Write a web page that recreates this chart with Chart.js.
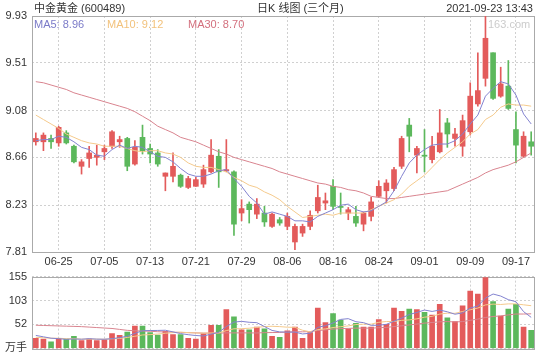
<!DOCTYPE html>
<html>
<head>
<meta charset="utf-8">
<script src="https://cdn.jsdelivr.net/npm/chart.js@4.4.0/dist/chart.umd.min.js"></script>
<style>
body { margin: 0; background: #fff; width: 540px; height: 360px; position: relative; overflow: hidden;
       font-family: "Liberation Sans", "Noto Sans CJK SC", sans-serif; font-size: 11px; color: #333; }
canvas { position: absolute; left: 0; }
#price { top: 0; }
#volume { top: 265px; }
.t { position: absolute; white-space: nowrap; line-height: 13px; z-index: 2; }
</style>
</head>
<body>
<canvas id="price" width="540" height="268"></canvas>
<canvas id="volume" width="540" height="95"></canvas>
<div class="t" style="left:34px;top:2px">中金黄金 (600489)</div>
<div class="t" style="left:257px;top:2px">日K 线图 (三个月)</div>
<div class="t" style="right:7px;top:2px">2021-09-23 13:43</div>
<div class="t" style="left:34px;top:18px;color:#7b7bc8">MA5: 8.96</div>
<div class="t" style="left:107px;top:18px;color:#f2c27c">MA10: 9.12</div>
<div class="t" style="left:188px;top:18px;color:#d3707e">MA30: 8.70</div>
<div class="t" style="left:488px;top:18px;color:#ccc">163.com</div>
<script>
const dates = ['06-22','06-23','06-24','06-25','06-28','06-29','06-30','07-01','07-02','07-05',
  '07-06','07-07','07-08','07-09','07-12','07-13','07-14','07-15','07-16','07-19',
  '07-20','07-21','07-22','07-23','07-26','07-27','07-28','07-29','07-30','08-02',
  '08-03','08-04','08-05','08-06','08-09','08-10','08-11','08-12','08-13','08-16',
  '08-17','08-18','08-19','08-20','08-23','08-24','08-25','08-26','08-27','08-30',
  '08-31','09-01','09-02','09-03','09-06','09-07','09-08','09-09','09-10','09-13',
  '09-14','09-15','09-16','09-17','09-22','09-23'];
const shownDates = ['06-25','07-05','07-13','07-21','07-29','08-06','08-16','08-24','09-01','09-09','09-17'];

const opens = [8.80,8.80,8.83,8.79,8.88,8.76,8.58,8.65,8.66,8.71,
  8.76,8.80,8.83,8.60,8.84,8.74,8.70,8.49,8.49,8.50,
  8.39,8.40,8.42,8.53,8.67,8.54,8.53,8.16,8.24,8.15,
  8.16,8.04,8.10,8.04,7.90,7.98,8.04,8.18,8.25,8.40,
  8.22,8.16,8.13,8.06,8.13,8.31,8.36,8.38,8.58,8.95,
  8.68,8.68,8.64,8.71,8.97,8.83,8.76,8.89,9.14,9.37,
  9.60,9.21,9.30,8.91,8.67,8.80];
const highs = [8.88,8.88,8.86,8.94,8.90,8.77,8.64,8.76,8.77,8.77,
  8.90,8.85,8.84,8.81,8.95,8.78,8.73,8.52,8.70,8.51,
  8.49,8.48,8.59,8.82,8.73,8.82,8.54,8.28,8.26,8.29,
  8.22,8.16,8.12,8.16,8.06,8.06,8.18,8.41,8.34,8.46,
  8.34,8.21,8.22,8.17,8.30,8.45,8.46,8.57,8.85,9.01,
  8.76,8.91,8.85,9.09,9.01,8.92,9.04,9.33,9.60,9.93,
  9.60,9.47,9.53,9.07,8.89,8.89];
const lows = [8.77,8.72,8.74,8.76,8.78,8.61,8.51,8.57,8.59,8.64,
  8.74,8.75,8.54,8.59,8.69,8.61,8.58,8.36,8.44,8.39,
  8.38,8.40,8.39,8.52,8.39,8.53,7.96,8.09,8.07,8.11,
  8.04,8.03,8.05,8.01,7.83,7.95,8.01,8.16,8.19,8.19,
  8.15,8.10,8.04,8.00,8.09,8.30,8.25,8.36,8.56,8.71,
  8.52,8.53,8.61,8.70,8.75,8.76,8.67,8.86,9.12,9.30,
  9.18,9.20,9.09,8.61,8.66,8.68];
const closes = [8.83,8.86,8.80,8.93,8.79,8.62,8.62,8.70,8.68,8.74,
  8.89,8.82,8.58,8.75,8.72,8.69,8.60,8.52,8.58,8.40,
  8.47,8.46,8.55,8.68,8.53,8.55,8.06,8.20,8.19,8.24,
  8.08,8.15,8.07,8.13,8.04,8.04,8.14,8.30,8.27,8.22,
  8.21,8.19,8.07,8.16,8.26,8.40,8.43,8.55,8.83,8.85,
  8.74,8.67,8.76,8.88,8.87,8.87,8.99,9.21,9.26,9.73,
  9.19,9.32,9.10,8.77,8.85,8.76];

const ma5 = [8.81,8.82,8.82,8.85,8.84,8.80,8.75,8.73,8.68,8.67,
  8.73,8.77,8.74,8.76,8.75,8.71,8.67,8.66,8.62,8.56,
  8.51,8.49,8.49,8.51,8.54,8.55,8.47,8.40,8.31,8.25,
  8.15,8.17,8.15,8.13,8.09,8.09,8.08,8.13,8.16,8.19,
  8.23,8.24,8.19,8.17,8.18,8.22,8.26,8.36,8.49,8.61,
  8.68,8.73,8.77,8.78,8.78,8.81,8.87,8.96,9.04,9.21,
  9.28,9.34,9.32,9.22,9.05,8.96];
const ma10 = [9.04,9.00,8.96,8.92,8.87,8.84,8.81,8.79,8.78,8.76,
  8.76,8.76,8.74,8.72,8.71,8.72,8.72,8.70,8.69,8.66,
  8.61,8.58,8.57,8.57,8.55,8.53,8.48,8.45,8.41,8.39,
  8.35,8.32,8.28,8.22,8.17,8.12,8.13,8.14,8.15,8.14,
  8.16,8.16,8.16,8.16,8.19,8.22,8.25,8.28,8.33,8.40,
  8.45,8.50,8.57,8.64,8.70,8.75,8.80,8.87,8.91,9.00,
  9.04,9.11,9.14,9.13,9.13,9.12];
const ma30 = [9.34,9.33,9.31,9.29,9.27,9.24,9.22,9.20,9.18,9.16,
  9.14,9.12,9.10,9.07,9.03,8.99,8.94,8.91,8.88,8.84,
  8.82,8.80,8.77,8.74,8.71,8.69,8.66,8.64,8.62,8.60,
  8.58,8.56,8.53,8.51,8.49,8.47,8.45,8.43,8.42,8.40,
  8.39,8.37,8.36,8.34,8.31,8.30,8.29,8.29,8.30,8.31,
  8.32,8.33,8.34,8.35,8.36,8.39,8.42,8.45,8.48,8.52,
  8.55,8.57,8.59,8.62,8.66,8.70];

const volumes = [22,20,14,22,20,26,17,20,17,19,
  32,28,35,48,48,34,29,37,30,30,
  22,20,32,50,50,84,68,40,40,46,
  42,26,24,38,46,22,34,87,56,75,
  61,42,54,46,46,62,52,87,80,85,
  84,78,72,95,66,58,92,124,117,153,
  101,70,85,95,46,39];
const volMa5 = [28,25,22,21,19.6,20.4,19.8,21,20,19.8,
  21,23.2,26.2,32.4,38.2,38.6,38.8,39.2,35.6,32,
  29.6,27.8,26.8,30.8,34.8,47.2,56.8,58.4,56.4,55.6,
  47.2,38.8,35.6,35.2,35.2,31.2,32.8,45.4,49,54.8,
  62.6,64.2,57.6,55.6,49.8,50,52,58.6,65.4,73.2,
  77.6,82.8,79.8,82.8,79,73.8,76.6,87,91.4,108.8,
  117.4,113,105.2,100.8,79.4,67];
const volMa10 = [24,23,22,22,21,21,20,20,20,19.7,
  20.7,21.5,23.6,26.2,29,29.8,31,32.7,34,35.1,
  34.1,33.3,33,33.2,33.4,38.4,42.3,42.6,43.6,45.2,
  47.2,47.8,47,45.8,45.4,39.2,35.8,40.5,42.1,45,
  46.9,48.5,51.5,52.3,52.3,56.3,58.1,58.1,60.5,61.5,
  63.8,67.4,69.2,74.1,76.1,75.7,79.7,83.4,87.1,93.9,
  95.6,94.8,96.1,96.1,94.1,92.2];
const volMa30 = [50,49.5,49,48.5,48,47.5,47,46,45,44,
  43,41,39,38,37.5,37,36,35.5,35,34.5,
  34,33.5,33,33,33,33.5,33.5,33.5,33.5,33.3,
  34,34.2,34.5,35.1,35.9,35.8,36.4,38.6,39.9,41.8,
  42.7,43.2,43.8,43.8,43.7,44.6,45.4,47.1,48.7,50.6,
  52.6,54.6,55.9,57.4,57.9,57.1,57.9,60.7,63.2,66.8,
  68.8,70.2,72.3,74.2,74.2,74.7];

const priceTicks = [7.81, 8.23, 8.66, 9.08, 9.51, 9.93];
const volumeTicks = [0, 52, 103, 155];

const upColor = '#e35b5b', downColor = '#5cb85c';
const ma5Color = '#8383d0', ma10Color = '#f5ca8c', ma30Color = '#d9848f';
const candleColors = closes.map((c, i) => c >= opens[i] ? upColor : downColor);

const tickFont = { family: '"Liberation Sans", "Noto Sans CJK SC", sans-serif', size: 11 };

// frame around each plot area
const boxPlugin = {
    id: 'box',
    beforeDatasetsDraw(chart) {
        const { ctx, chartArea: a } = chart;
        ctx.save();
        ctx.strokeStyle = '#aaa';
        ctx.lineWidth = 1;
        ctx.setLineDash([]);
        ctx.strokeRect(Math.round(a.left) + 0.5, Math.round(a.top) + 0.5,
            Math.round(a.right - a.left) - 1, Math.round(a.bottom - a.top));
        ctx.restore();
    }
};

function maLine(data, color) {
    return { type: 'line', data: data, borderColor: color, borderWidth: 1,
             pointRadius: 0, tension: 0, fill: false };
}

function xScale(showLabels) {
    return {
        type: 'category',
        offset: true,
        grid: { offset: false, color: '#d0d0d0', drawTicks: false },
        border: { display: false, dash: [2, 2] },
        ticks: { display: showLabels, autoSkip: false, maxRotation: 0, padding: 3,
                 color: '#333', font: tickFont },
        afterBuildTicks: (s) => { s.ticks = s.ticks.filter(t => shownDates.includes(dates[t.value])); },
        afterFit: (s) => { s.height = showLabels ? 16 : 0; }
    };
}

function yScale(min, max, ticks, fmt) {
    return {
        min: min, max: max,
        grid: { color: '#d0d0d0', drawTicks: false },
        border: { display: false, dash: [2, 2] },
        ticks: { padding: 5, color: '#333', font: tickFont, callback: fmt },
        afterBuildTicks: (s) => { s.ticks = ticks.map(v => ({ value: v })); },
        afterFit: (s) => { s.width = 32; }
    };
}

new Chart(document.getElementById('price').getContext('2d'), {
    type: 'bar',
    data: {
        labels: dates,
        datasets: [
            maLine(ma5, ma5Color),
            maLine(ma10, ma10Color),
            maLine(ma30, ma30Color),
            {
                data: opens.map((o, i) => [o, closes[i]]),
                backgroundColor: candleColors,
                barThickness: 5, grouped: false, minBarLength: 1
            },
            {
                data: lows.map((l, i) => [l, highs[i]]),
                backgroundColor: candleColors,
                barThickness: 1, grouped: false
            }
        ]
    },
    options: {
        responsive: false,
        animation: false,
        devicePixelRatio: 1,
        layout: { padding: { top: 16, right: 5, left: 0, bottom: 0 } },
        plugins: { legend: { display: false }, tooltip: { enabled: false } },
        scales: {
            x: xScale(true),
            y: yScale(7.81, 9.93, priceTicks, (v) => v.toFixed(2))
        }
    },
    plugins: [boxPlugin]
});

new Chart(document.getElementById('volume').getContext('2d'), {
    type: 'bar',
    data: {
        labels: dates,
        datasets: [
            maLine(volMa5, ma5Color),
            maLine(volMa10, ma10Color),
            maLine(volMa30, ma30Color),
            {
                data: volumes,
                backgroundColor: candleColors,
                barThickness: 5, grouped: false
            }
        ]
    },
    options: {
        responsive: false,
        animation: false,
        devicePixelRatio: 1,
        layout: { padding: { top: 8, right: 5, left: 0, bottom: 9 } },
        plugins: { legend: { display: false }, tooltip: { enabled: false } },
        scales: {
            x: xScale(false),
            y: yScale(0, 155, volumeTicks, (v) => v === 0 ? '万手' : v)
        }
    },
    plugins: [boxPlugin]
});
</script>
</body>
</html>
